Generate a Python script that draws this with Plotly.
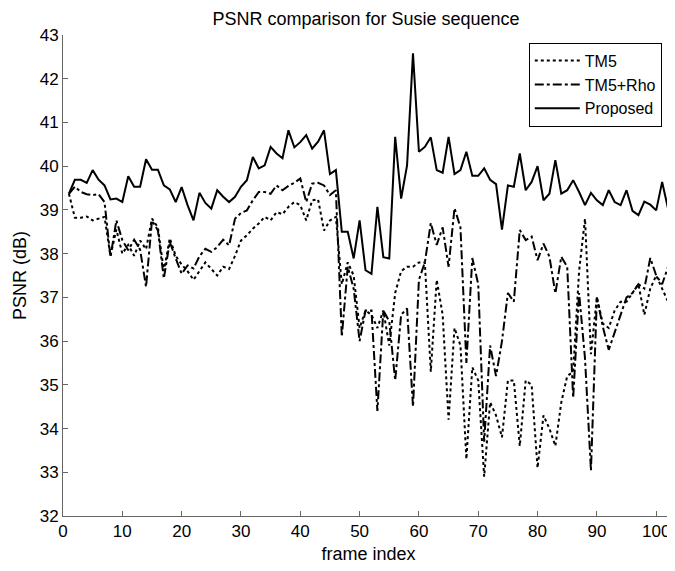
import plotly.graph_objects as go

frames = list(range(1, 104))

tm5 = [39.37, 38.82, 38.82, 38.85, 38.76, 38.80, 38.84, 37.95, 38.55, 38.00,
       38.20, 37.95, 38.30, 38.10, 38.80, 38.60, 37.60, 38.35, 37.95, 37.75,
       37.60, 37.40, 37.60, 37.80, 37.65, 37.50, 37.70, 37.65, 37.95, 38.30,
       38.42, 38.57, 38.69, 38.84, 38.76, 38.95, 38.90, 39.07, 39.18, 39.11,
       38.76, 39.22, 39.24, 38.53, 38.76, 38.84, 37.30, 37.80, 37.50, 36.30,
       36.70, 36.60, 36.30, 36.70, 35.90, 37.10, 37.60, 37.70, 37.70, 37.80,
       37.80, 35.30, 37.40, 36.60, 34.20, 36.30, 35.90, 33.30, 35.40, 35.10,
       32.90, 34.60, 34.30, 33.80, 35.10, 35.10, 33.60, 35.10, 35.00, 33.10,
       34.30, 34.00, 33.60, 34.60, 35.20, 35.30, 37.60, 38.80, 35.70, 37.00,
       36.40, 36.30, 36.70, 36.90, 36.90, 37.10, 37.30, 36.60, 37.20, 37.50,
       37.20, 36.90, 37.20]

tm5_rho = [39.37, 39.53, 39.41, 39.36, 39.34, 39.36, 39.18, 37.92, 38.76, 38.31,
           38.08, 38.32, 38.09, 37.24, 38.76, 38.53, 37.43, 38.27, 37.89, 37.54,
           37.73, 37.66, 37.94, 38.11, 38.04, 38.15, 38.32, 38.19, 38.80, 38.93,
           38.99, 39.22, 39.41, 39.41, 39.37, 39.56, 39.45, 39.55, 39.62, 39.72,
           39.18, 39.60, 39.62, 39.56, 39.34, 39.45, 36.10, 37.70, 37.20, 36.00,
           36.70, 36.70, 34.40, 36.70, 36.45, 35.10, 36.60, 36.75, 34.50, 37.40,
           37.80, 38.70, 38.20, 38.60, 37.70, 39.04, 38.60, 35.50, 37.90, 37.30,
           33.70, 35.90, 35.20, 36.00, 37.10, 36.90, 38.54, 38.31, 38.39, 37.85,
           38.23, 37.93, 37.09, 37.93, 37.70, 34.70, 37.10, 35.60, 33.04, 37.00,
           36.33, 35.80, 36.20, 36.60, 37.00, 37.10, 37.30, 37.20, 37.90, 37.50,
           37.30, 37.70, 37.50]

proposed = [39.37, 39.69, 39.69, 39.62, 39.91, 39.69, 39.56, 39.24, 39.26, 39.18,
            39.77, 39.53, 39.53, 40.16, 39.92, 39.92, 39.56, 39.47, 39.18, 39.52,
            39.11, 38.76, 39.39, 39.16, 39.03, 39.45, 39.30, 39.18, 39.30, 39.53,
            39.68, 40.21, 39.95, 40.02, 40.44, 40.29, 40.18, 40.82, 40.43, 40.55,
            40.71, 40.40, 40.56, 40.82, 39.82, 39.91, 38.50, 38.50, 37.89, 38.76,
            37.62, 37.54, 39.07, 37.92, 37.89, 40.67, 39.26, 40.02, 42.58, 40.33,
            40.44, 40.66, 39.91, 39.85, 40.67, 39.82, 39.91, 40.33, 39.78, 39.78,
            39.95, 39.69, 39.59, 38.55, 39.56, 39.53, 40.29, 39.45, 39.64, 40.00,
            39.22, 39.37, 40.14, 39.37, 39.45, 39.68, 39.41, 39.11, 39.39, 39.22,
            39.11, 39.45, 39.18, 39.11, 39.45, 38.98, 38.88, 39.19, 39.12, 38.99,
            39.64, 39.03, 39.13]

x_ticks = list(range(0, 101, 10))
y_ticks = list(range(32, 44))

font = "Liberation Sans, Arial, sans-serif"

fig = go.Figure()
fig.add_trace(go.Scatter(x=frames, y=tm5, mode="lines", name="TM5",
                         line=dict(color="black", width=2, dash="dot")))
fig.add_trace(go.Scatter(x=frames, y=tm5_rho, mode="lines", name="TM5+Rho",
                         line=dict(color="black", width=2, dash="dashdot")))
fig.add_trace(go.Scatter(x=frames, y=proposed, mode="lines", name="Proposed",
                         line=dict(color="black", width=2)))

axis_style = dict(
    showgrid=False, zeroline=False, showline=True, linecolor="#666666",
    linewidth=1, ticks="inside", ticklen=5, tickcolor="#666666",
    tickfont=dict(family=font, size=17, color="black"), mirror=False,
    automargin=False,
)

fig.update_xaxes(range=[0, 103], tickvals=x_ticks,
                 title=dict(text="frame index", font=dict(family=font, size=18, color="black"),
                            standoff=6),
                 **axis_style)
fig.update_yaxes(range=[32, 43], tickvals=y_ticks,
                 title=dict(text="PSNR (dB)", font=dict(family=font, size=18, color="black"),
                            standoff=8),
                 **axis_style)

# the page body adds an 8px offset, so the figure is 8px smaller than the window
fig.update_layout(
    template="none",
    width=667, height=563,
    margin=dict(l=55, r=1, t=27, b=55, autoexpand=False),
    paper_bgcolor="white", plot_bgcolor="white",
    title=dict(text="PSNR comparison for Susie sequence", x=358 / 667, xanchor="center",
               xref="container", y=1 - 11 / 563, yanchor="middle", yref="container",
               font=dict(family=font, size=18, color="black")),
    legend=dict(x=0.98, y=0.984, xanchor="right", yanchor="top",
                bgcolor="white", bordercolor="black", borderwidth=1,
                font=dict(family=font, size=16, color="black"),
                itemwidth=45, tracegroupgap=0),
    showlegend=True,
)

fig.write_html("out.html")
